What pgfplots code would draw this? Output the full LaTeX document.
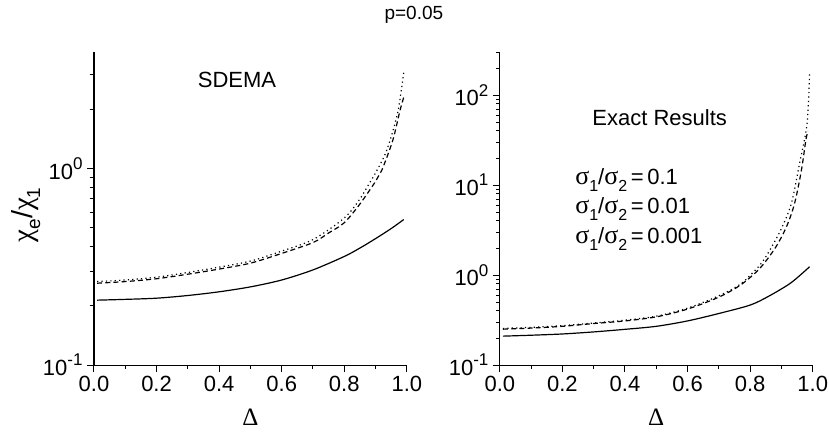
\documentclass[border=0pt]{standalone}
\usepackage{fontspec}
\setmainfont{Liberation Sans}
\newfontfamily\gr{Liberation Serif}
\usepackage{pgfplots}
\pgfplotsset{compat=1.18}
\newcommand{\sub}[1]{\raisebox{-0.6ex}{\fontsize{8}{9}\selectfont #1}}
\newcommand{\lsub}[1]{\raisebox{-0.5ex}{\fontsize{9.5}{10}\selectfont #1}}
\newcommand{\sig}{{\gr\fontsize{13}{14}\selectfont σ}}
\newcommand{\ratio}[1]{\fontsize{11}{12}\selectfont\sig\sub{1}/\sig\sub{2}\,=\,#1}
\newcommand{\tp}[1]{10\raisebox{0.85ex}{\fontsize{8.5}{9}\selectfont #1}}

\pgfplotsset{
  panel/.style={
    scale only axis, width=156.5pt, height=156.5pt,
    xmin=0, xmax=1, ymin=0.1,
    axis x line*=bottom, axis y line*=left,
    axis line style={line width=0.6pt, -},
    tick style={black, line width=0.5pt},
    tick align=outside,
    major tick length=3.5pt, minor tick length=2pt,
    xtick={0,0.2,0.4,0.6,0.8,1}, minor x tick num=1,
    xticklabel style={/pgf/number format/fixed, /pgf/number format/fixed zerofill,
      /pgf/number format/precision=1, /pgf/number format/assume math mode=true,
      inner xsep=0.5pt, yshift=1.5pt},
    yticklabel style={inner xsep=2pt},
    tick label style={font=\fontsize{11}{12}\selectfont},
    xlabel={\gr Δ},
    xlabel style={font=\fontsize{12.5}{13}\selectfont, at={(rel axis cs:0.5,0)}, anchor=center, yshift=-26pt},
    clip=false,
  },
  s1/.style={black, line width=0.6pt, smooth},
  s2/.style={black, line width=0.6pt, smooth, dash pattern=on 2.5pt off 1.6pt},
  s3/.style={black, line width=0.6pt, smooth, dash pattern=on 0.6pt off 1.6pt},
}

\begin{document}
\begin{tikzpicture}
% SDEMA
\begin{semilogyaxis}[panel, ymax=3.9,
  ytick={0.1,1}, yticklabels={\tp{-1},\tp{0}},
  minor ytick={0.2,0.3,0.4,0.5,0.6,0.7,0.8,0.9,2,3},
  ylabel={{\gr χ}\lsub{e}/{\gr χ}\lsub{1}},
  ylabel style={font=\fontsize{14.5}{15}\selectfont, at={([xshift=-34pt]rel axis cs:0,0.48)}, anchor=center}]
\addplot[s1] coordinates {
  (0.01,0.214) (0.1,0.216) (0.2,0.219) (0.3,0.226) (0.4,0.236) (0.5,0.25)
  (0.6,0.271) (0.7,0.305) (0.8,0.357) (0.85,0.394) (0.9,0.44) (0.95,0.495) (0.99,0.55)};
\addplot[s2] coordinates {
  (0.01,0.261) (0.1,0.266) (0.2,0.275) (0.3,0.290) (0.4,0.308) (0.5,0.33)
  (0.6,0.37) (0.7,0.42) (0.75,0.47) (0.8,0.53) (0.85,0.66) (0.9,0.86)
  (0.92,0.98) (0.955,1.39) (0.978,1.97) (0.99,2.3)};
\addplot[s3] coordinates {
  (0.01,0.266) (0.1,0.271) (0.2,0.28) (0.3,0.296) (0.4,0.315) (0.5,0.338)
  (0.6,0.38) (0.7,0.435) (0.8,0.56) (0.85,0.70) (0.88,0.84) (0.9,0.95)
  (0.935,1.23) (0.97,1.9) (0.99,3.07)};
\node at (rel axis cs:0.457,0.91) {\fontsize{11}{12}\selectfont SDEMA};
\end{semilogyaxis}
% Exact results
\begin{semilogyaxis}[panel, at={(203pt,0)}, ymax=300,
  ytick={0.1,1,10,100},
  minor ytick={0.2,0.3,0.4,0.5,0.6,0.7,0.8,0.9,2,3,4,5,6,7,8,9,20,30,40,50,60,70,80,90,200,300},
  yticklabels={\tp{-1},\tp{0},\tp{1},\tp{2}}]
\addplot[s1] coordinates {
  (0.01,0.21) (0.1,0.215) (0.2,0.222) (0.3,0.234) (0.4,0.25) (0.5,0.27)
  (0.6,0.31) (0.7,0.375) (0.8,0.465) (0.86,0.585) (0.93,0.82) (0.99,1.24)};
\addplot[s2] coordinates {
  (0.01,0.251) (0.1,0.258) (0.2,0.27) (0.3,0.29) (0.4,0.31) (0.5,0.344)
  (0.6,0.42) (0.7,0.57) (0.77,0.78) (0.83,1.18) (0.88,2.0) (0.916,3.44)
  (0.942,6.26) (0.964,14.7) (0.978,31.6) (0.985,40)};
\addplot[s3] coordinates {
  (0.01,0.256) (0.1,0.263) (0.2,0.275) (0.3,0.294) (0.4,0.316) (0.5,0.35)
  (0.6,0.43) (0.7,0.59) (0.77,0.80) (0.83,1.28) (0.863,1.9) (0.9,3.3)
  (0.932,6.3) (0.958,17.5) (0.982,48) (0.99,175)};
\node at (rel axis cs:0.511,0.792) {\fontsize{11}{12}\selectfont Exact Results};
\node[anchor=base west, inner sep=0pt] at (rel axis cs:0.24,0.578) {\ratio{0.1}};
\node[anchor=base west, inner sep=0pt] at (rel axis cs:0.24,0.486) {\ratio{0.01}};
\node[anchor=base west, inner sep=0pt] at (rel axis cs:0.24,0.39) {\ratio{0.001}};
\end{semilogyaxis}
\node[font=\fontsize{9.5}{11}\selectfont] at (160pt,175pt) {p=0.05};
\path (-47pt,-35pt) rectangle (367.5pt,182.5pt);
\end{tikzpicture}
\end{document}
